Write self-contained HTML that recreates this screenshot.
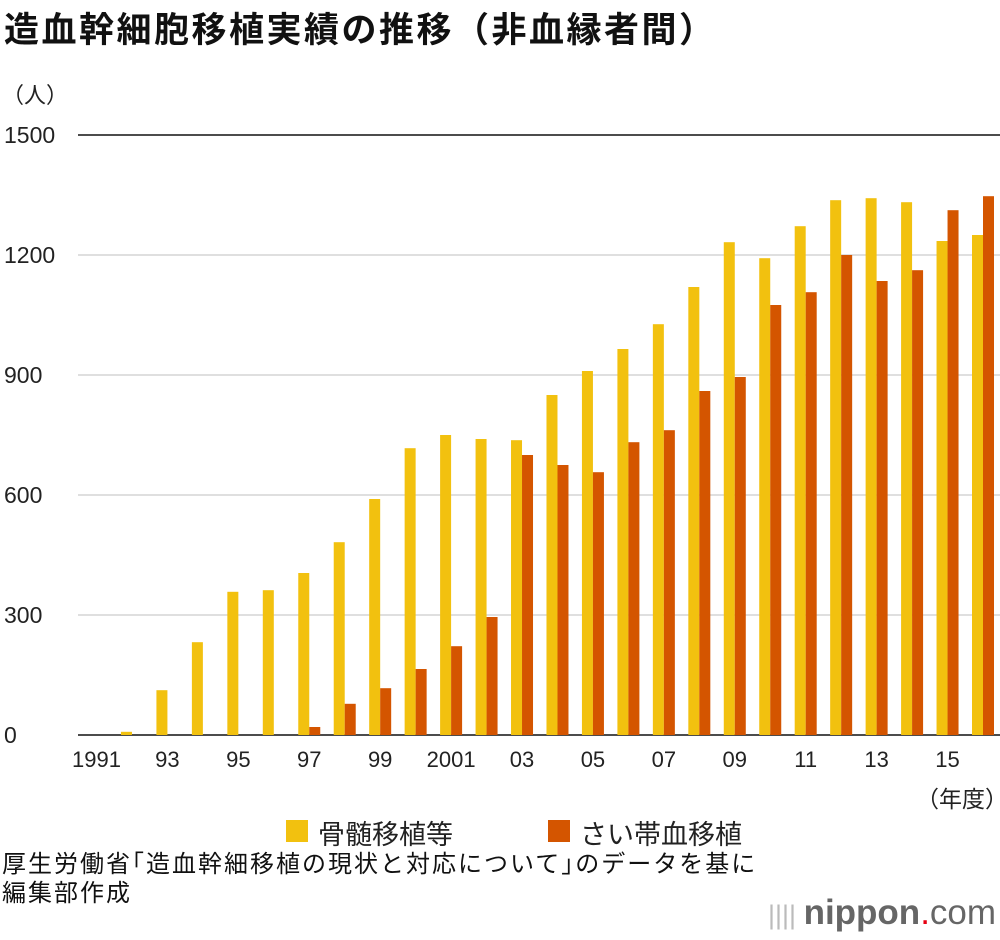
<!DOCTYPE html>
<html><head><meta charset="utf-8">
<style>
body{margin:0;width:1000px;height:940px;background:#fff;font-family:"Liberation Sans","Noto Sans CJK JP",sans-serif;overflow:hidden;position:relative}
.t{position:absolute;white-space:nowrap;color:#222}
</style></head>
<body>
<div class="t" style="left:4px;top:2px;font-size:35px;font-weight:bold;color:#111;letter-spacing:2.5px">造血幹細胞移植実績の推移（非血縁者間）</div>
<div class="t" style="left:2px;top:78px;font-size:22px">（人）</div>
<svg id="c" width="1000" height="940" style="position:absolute;left:0;top:0"></svg>
<div class="t" style="left:916px;top:780px;font-size:23px">（年度）</div>
<div style="position:absolute;left:286px;top:820px;width:22px;height:22px;background:#f2c10f"></div>
<div class="t" style="left:318px;top:813px;font-size:27px">骨髄移植等</div>
<div style="position:absolute;left:548px;top:820px;width:22px;height:22px;background:#d45500"></div>
<div class="t" style="left:580px;top:813px;font-size:27px">さい帯血移植</div>
<div class="t" style="left:2px;top:850px;font-size:24px;line-height:29px;color:#111;letter-spacing:2px">厚生労働省｢造血幹細移植の現状と対応について｣のデータを基に<br>編集部作成</div>
<div class="t" style="left:768px;top:893px;font-size:35px;color:#666"><span style="color:#bbb;font-size:27px">|||| </span><b>nippon</b><span style="color:#e60012">.</span>com</div>
<script>
const years=[1991,1992,1993,1994,1995,1996,1997,1998,1999,2000,2001,2002,2003,2004,2005,2006,2007,2008,2009,2010,2011,2012,2013,2014,2015,2016];
const boneMarrow=[0,8,112,232,358,362,405,482,590,717,750,740,737,850,910,965,1027,1120,1232,1192,1272,1337,1342,1332,1235,1250];
const cordBlood=[0,0,0,0,0,0,20,78,117,165,222,295,700,675,657,732,762,860,895,1075,1107,1200,1135,1162,1312,1347];
const yTicks=[0,300,600,900,1200,1500];
const xLabels=["1991","93","95","97","99","2001","03","05","07","09","11","13","15"];
const svg=document.getElementById('c');const NS='http://www.w3.org/2000/svg';
const y0=735,ppu=0.4,x0=85.5,step=35.46,bw=11;
const yS=v=>y0-v*ppu;const xS=i=>x0+i*step;
function mk(t,a){const e=document.createElementNS(NS,t);for(const k in a)e.setAttribute(k,a[k]);svg.appendChild(e);return e;}
yTicks.forEach(v=>{
 const l=mk('line',{x1:78,x2:1000,y1:yS(v),y2:yS(v),stroke:(v===0||v===1500)?'#111':'#ccc','stroke-width':(v===0||v===1500)?1.5:1.2});
 
 
 const t=mk('text',{x:4,y:yS(v)+8,'font-size':23,fill:'#222'});t.textContent=v;
 
 
});
years.forEach((yr,i)=>{
 const a=mk('rect',{x:xS(i),y:yS(boneMarrow[i]),width:bw,height:boneMarrow[i]*ppu,fill:'#f2c10f'});
 
 
 const b=mk('rect',{x:xS(i)+bw,y:yS(cordBlood[i]),width:bw,height:cordBlood[i]*ppu,fill:'#d45500'});
 
 
});
xLabels.forEach((s,k)=>{
 const t=mk('text',{x:xS(k*2)+bw,y:767,'font-size':22,fill:'#222','text-anchor':'middle'});t.textContent=s;
 
 
});
</script>
</body></html>
